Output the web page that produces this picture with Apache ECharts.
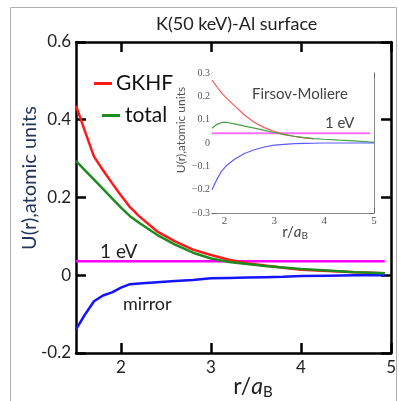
<!DOCTYPE html>
<html><head><meta charset="utf-8">
<script src="https://cdn.jsdelivr.net/npm/echarts@6/dist/echarts.min.js"></script>
<style>html,body{margin:0;padding:0;background:#fff}#c{width:399px;height:401px}</style>
</head><body><div id="c"></div>
<script>
// Main plot data (r in units of a_B, U in atomic units)
var mainR     = [1.5, 1.6, 1.7, 1.8, 1.9, 2.0, 2.1, 2.2, 2.4, 2.6, 2.8, 3.0, 3.2, 3.4, 3.6, 3.8, 4.0, 4.3, 4.6, 4.93];
var gkhf      = [0.436,0.37,0.305,0.27,0.237,0.205,0.175,0.152,0.113,0.087,0.066,0.052,0.04,0.031,0.025,0.019,0.014,0.011,0.008,0.005];
var total     = [0.294,0.27,0.246,0.222,0.198,0.174,0.152,0.135,0.104,0.079,0.058,0.043,0.034,0.029,0.024,0.02,0.016,0.012,0.008,0.005];
var mirror    = [-0.139,-0.101,-0.067,-0.052,-0.044,-0.032,-0.023,-0.021,-0.018,-0.015,-0.012,-0.008,-0.007,-0.006,-0.005,-0.004,-0.002,-0.001,0,0];
var oneEvR    = [1.5, 4.93];
var oneEvU    = [0.036, 0.036];
// Inset (Firsov-Moliere) data
var insetR      = [1.75,1.85,1.95,2.05,2.2,2.4,2.6,2.8,3.0,3.2,3.4,3.6,3.8,4.0,4.3,4.6,5.0];
var insetRed    = [0.27,0.24,0.213,0.19,0.16,0.12,0.088,0.066,0.049,0.037,0.028,0.022,0.018,null,null,null,null];
var insetGreen  = [0.063,0.08,0.088,0.088,0.082,0.072,0.064,0.054,0.045,0.036,0.029,0.023,0.019,0.016,0.012,0.009,0.003];
var insetBlue   = [-0.2,-0.155,-0.118,-0.095,-0.07,-0.045,-0.029,-0.017,-0.009,-0.006,-0.003,-0.002,-0.001,0,0,0,0];
var insetEvR    = [1.75, 4.92];
var insetEvU    = [0.042, 0.042];
// Ticks
var mainXTicks  = [2, 3, 4, 5];
var insetXTicks = [2, 3, 4, 5];

function pairs(xs, ys){ var o=[]; for(var i=0;i<xs.length;i++){ o.push(ys[i]===null?[xs[i],null]:[xs[i],ys[i]]); } return o; }

var chart = echarts.init(document.getElementById('c'), null, {renderer:'canvas'});
var FONT = 'Lato';
var SERIF = 'Liberation Serif';

function mainX(pos, labels){
  return {gridIndex:0, type:'value', min:1.5, max:5, position:pos,
    axisLine:{show:true, onZero:false, lineStyle:{color:'#000', width:2.5}},
    axisTick:{show:true, inside:true, length:10, customValues:mainXTicks, lineStyle:{color:'#000', width:2.5}},
    axisLabel:{show:labels, customValues:mainXTicks, fontFamily:FONT, fontSize:17, color:'#222', margin:6},
    splitLine:{show:false}};
}
function mainY(pos, labels){
  return {gridIndex:0, type:'value', min:-0.2, max:0.6, interval:0.2, position:pos,
    axisLine:{show:true, onZero:false, lineStyle:{color:'#000', width:2.5}},
    axisTick:{show:true, inside:true, length:10, lineStyle:{color:'#000', width:2.5}},
    axisLabel:{show:labels, fontFamily:FONT, fontSize:17, color:'#222', margin:5,
      formatter:function(v){ return Math.abs(v)<1e-9 ? '0' : v.toFixed(1); }},
    splitLine:{show:false}};
}
function insetX(pos, labels){
  return {gridIndex:1, type:'value', min:1.75, max:5, position:pos,
    axisLine:{show:true, onZero:false, lineStyle:{color:'#888', width:1}},
    axisTick:{show:true, inside:true, length:5, customValues:insetXTicks, lineStyle:{color:'#666', width:1}},
    axisLabel:{show:labels, customValues:insetXTicks, fontFamily:SERIF, fontSize:11, color:'#555', margin:3},
    splitLine:{show:false}};
}
function insetY(pos, labels){
  return {gridIndex:1, type:'value', min:-0.3, max:0.3, interval:0.1, position:pos,
    axisLine:{show:true, onZero:false, lineStyle:{color:'#888', width:1}},
    axisTick:{show:true, inside:true, length:5, lineStyle:{color:'#666', width:1}},
    axisLabel:{show:labels, fontFamily:SERIF, fontSize:10, color:'#555', margin:2,
      formatter:function(v){ if(Math.abs(v)<1e-9) return '0'; return (v<0?'\u22120':'0')+'.'+Math.round(Math.abs(v)*10); }},
    splitLine:{show:false}};
}

function line(name, xs, ys, color, width, xi, yi, z){
  return {name:name, type:'line', xAxisIndex:xi, yAxisIndex:yi, data:pairs(xs, ys),
    showSymbol:false, symbol:'none', smooth:false, connectNulls:false, z:z||2,
    lineStyle:{color:color, width:width}, itemStyle:{color:color}, silent:true};
}

chart.setOption({
  animation:false,
  backgroundColor:'#fff',
  title:{text:'K(50 keV)-Al surface', left:151, top:10,
    textStyle:{fontFamily:FONT, fontSize:18, fontWeight:'normal', color:'#222'}},
  legend:[
    {data:['GKHF'], left:89, top:68, itemWidth:18, itemHeight:3, itemGap:6, icon:'rect',
      textStyle:{fontFamily:FONT, fontSize:21, color:'#111', padding:[0,0,0,-1]}},
    {data:['total'], left:97, top:100, itemWidth:18, itemHeight:3, icon:'rect',
      textStyle:{fontFamily:FONT, fontSize:21, color:'#111'}}
  ],
  grid:[
    {left:76, top:42, width:317, height:311, show:false},
    {left:212, top:73, width:162, height:140, show:true, backgroundColor:'#fff', borderWidth:0, z:5}
  ],
  xAxis:[mainX('bottom', true), mainX('top', false), insetX('bottom', true), insetX('top', false)],
  yAxis:[mainY('left', true), mainY('right', false), insetY('left', true), insetY('right', false)],
  series:[
    line('GKHF', mainR, gkhf, '#ff1a1a', 2.5, 0, 0, 3),
    line('total', mainR, total, '#1f8c1f', 2.5, 0, 0, 4),
    line('mirror', mainR, mirror, '#1414ff', 2.5, 0, 0, 3),
    line('1 eV', oneEvR, oneEvU, '#ff00ff', 2.5, 0, 0, 2),
    line('FM 1 eV', insetEvR, insetEvU, '#ff70ff', 2, 2, 2, 6),
    line('FM red', insetR, insetRed, '#ff5555', 1.2, 2, 2, 7),
    line('FM green', insetR, insetGreen, '#44a044', 1.2, 2, 2, 7),
    line('FM blue', insetR, insetBlue, '#5a5aff', 1.2, 2, 2, 7)
  ],
  graphic:[
    {type:'rect', shape:{x:10.5, y:7.5, width:386, height:400}, style:{fill:'none', stroke:'#b0b0b0', lineWidth:1}, silent:true, z:-10},
    {type:'text', x:30, y:178, rotation:Math.PI/2, style:{text:'U(r),atomic units', fontFamily:FONT, fontSize:20,
      fill:'#22365c', textAlign:'center', textVerticalAlign:'middle'}},
    {type:'text', x:253, y:387, style:{rich:{n:{fontFamily:FONT, fontSize:23, fill:'#222'}, i:{fontFamily:FONT, fontSize:23, fontStyle:'italic', fill:'#222'}, s:{fontFamily:FONT, fontSize:15, fill:'#222', padding:[10,0,0,0]}},
      text:'{n|r/}{i|a}{s|B}', textAlign:'center', textVerticalAlign:'middle'}},
    {type:'text', x:100, y:252, style:{text:'1 eV', fontFamily:FONT, fontSize:19, fill:'#222', textVerticalAlign:'middle'}},
    {type:'text', x:123, y:304, style:{text:'mirror', fontFamily:FONT, fontSize:18, fill:'#222', textVerticalAlign:'middle'}},
    {type:'text', x:181, y:130, rotation:Math.PI/2, z:20, style:{text:'U(r),atomic units', fontFamily:FONT, fontSize:12,
      fill:'#555', textAlign:'center', textVerticalAlign:'middle'}},
    {type:'text', x:252, y:94, z:20, style:{text:'Firsov-Moliere', fontFamily:FONT, fontSize:15, fill:'#444', textVerticalAlign:'middle'}},
    {type:'text', x:325, y:123, z:20, style:{text:'1 eV', fontFamily:FONT, fontSize:15, fill:'#444', textVerticalAlign:'middle'}},
    {type:'text', x:295, y:232, z:20, style:{rich:{n:{fontFamily:FONT, fontSize:15, fill:'#444'}, i:{fontFamily:FONT, fontSize:15, fontStyle:'italic', fill:'#444'}, s:{fontFamily:FONT, fontSize:10, fill:'#444', padding:[7,0,0,0]}},
      text:'{n|r/}{i|a}{s|B}', textAlign:'center', textVerticalAlign:'middle'}}
  ]
});
</script></body></html>
